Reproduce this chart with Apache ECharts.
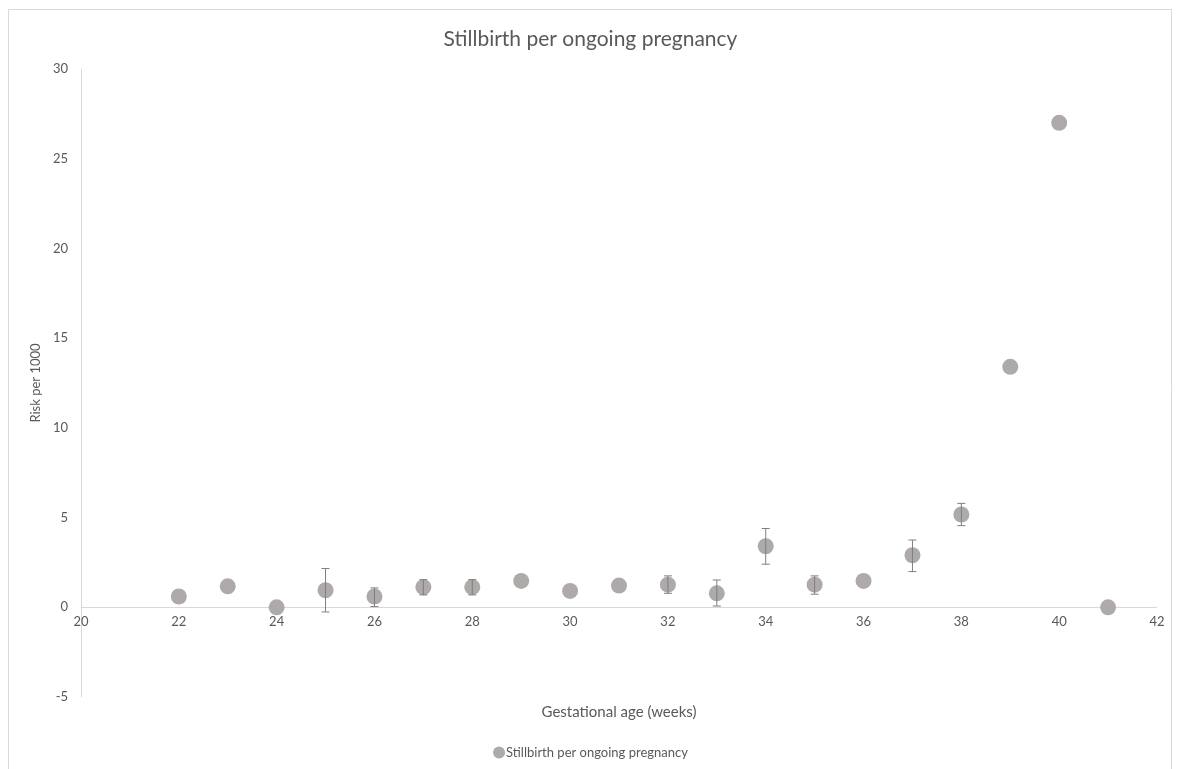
<!DOCTYPE html>
<html>
<head>
<meta charset="utf-8">
<script src="https://cdn.jsdelivr.net/npm/echarts@6/dist/echarts.min.js"></script>
<style>html,body{margin:0;padding:0;background:#fff}#c{width:1181px;height:769px}</style>
</head>
<body>
<div id="c"></div>
<script>
var weeks = [22, 23, 24, 25, 26, 27, 28, 29, 30, 31, 32, 33, 34, 35, 36, 37, 38, 39, 40, 41];
var risk = [0.6, 1.17, 0, 0.95, 0.6, 1.12, 1.12, 1.47, 0.91, 1.21, 1.26, 0.78, 3.4, 1.26, 1.47, 2.9, 5.17, 13.4, 27.0, 0];
var errLow = [null, null, null, -0.26, 0.04, 0.69, 0.69, null, null, null, 0.78, 0.07, 2.40, 0.73, null, 1.99, 4.55, null, null, null];
var errHigh = [null, null, null, 2.16, 1.08, 1.54, 1.54, null, null, null, 1.75, 1.52, 4.39, 1.75, null, 3.75, 5.79, null, null, null];
var seriesName = 'Stillbirth per ongoing pregnancy';
var xTitle = 'Gestational age (weeks)';
var yTitle = 'Risk per 1000';

var pts = weeks.map(function (w, i) { return [w, risk[i]]; });
var errs = [];
weeks.forEach(function (w, i) {
  if (errLow[i] !== null) errs.push([w, errLow[i], errHigh[i]]);
});

var font = 'Lato, "Open Sans", sans-serif';
var txt = '#595959';
var chart = echarts.init(document.getElementById('c'));
chart.setOption({
  animation: false,
  title: {
    text: seriesName, left: 'center', top: 24,
    textStyle: { fontFamily: font, fontSize: 21, fontWeight: 'normal', color: txt }
  },
  legend: {
    bottom: 5, left: 'center', icon: 'circle', itemWidth: 12, itemHeight: 12, itemGap: 2,
    data: [seriesName],
    textStyle: { fontFamily: font, fontSize: 13, color: txt, padding: [0, 0, 0, -4] }
  },
  grid: { left: 81, right: 24, top: 69, bottom: 72, outerBoundsMode: 'none' },
  xAxis: {
    type: 'value', min: 20, max: 42, interval: 2,
    name: xTitle, nameLocation: 'middle', nameGap: 8,
    nameTextStyle: { fontFamily: font, fontSize: 15, color: txt },
    axisLine: { show: false },
    axisTick: { show: false },
    axisLabel: { fontFamily: font, fontSize: 13, color: txt, margin: -82 },
    splitLine: { show: false }
  },
  yAxis: {
    type: 'value', min: -5, max: 30, interval: 5,
    name: yTitle, nameLocation: 'middle', nameGap: 33,
    nameTextStyle: { fontFamily: font, fontSize: 13, color: txt },
    axisLine: { show: true, onZero: false, lineStyle: { color: '#d9d9d9' } },
    axisTick: { show: false },
    axisLabel: { fontFamily: font, fontSize: 13, color: txt, margin: 13 },
    splitLine: { show: false }
  },
  graphic: [{
    type: 'rect', shape: { x: 8.5, y: 9.5, width: 1163, height: 770 },
    style: { fill: 'none', stroke: '#d9d9d9', lineWidth: 1 }, silent: true, z: -1
  }],
  series: [{
    name: seriesName, type: 'scatter', data: pts, symbolSize: 16,
    itemStyle: { color: '#aeaaaa', opacity: 1 }, z: 3,
    markLine: {
      silent: true, symbol: 'none', animation: false, z: 1,
      label: { show: false },
      lineStyle: { color: '#d9d9d9', type: 'solid', width: 1 },
      data: [{ yAxis: 0 }]
    }
  }, {
    type: 'custom', data: errs, z: 4,
    renderItem: function (params, api) {
      var x = api.value(0);
      var lo = api.coord([x, api.value(1)]);
      var hi = api.coord([x, api.value(2)]);
      var cw = 4;
      var st = { stroke: '#7f7f7f', lineWidth: 1 };
      return {
        type: 'group',
        children: [
          { type: 'line', shape: { x1: lo[0], y1: lo[1], x2: hi[0], y2: hi[1] }, style: st },
          { type: 'line', shape: { x1: lo[0] - cw, y1: lo[1], x2: lo[0] + cw, y2: lo[1] }, style: st },
          { type: 'line', shape: { x1: hi[0] - cw, y1: hi[1], x2: hi[0] + cw, y2: hi[1] }, style: st }
        ]
      };
    }
  }]
});
</script>
</body>
</html>
